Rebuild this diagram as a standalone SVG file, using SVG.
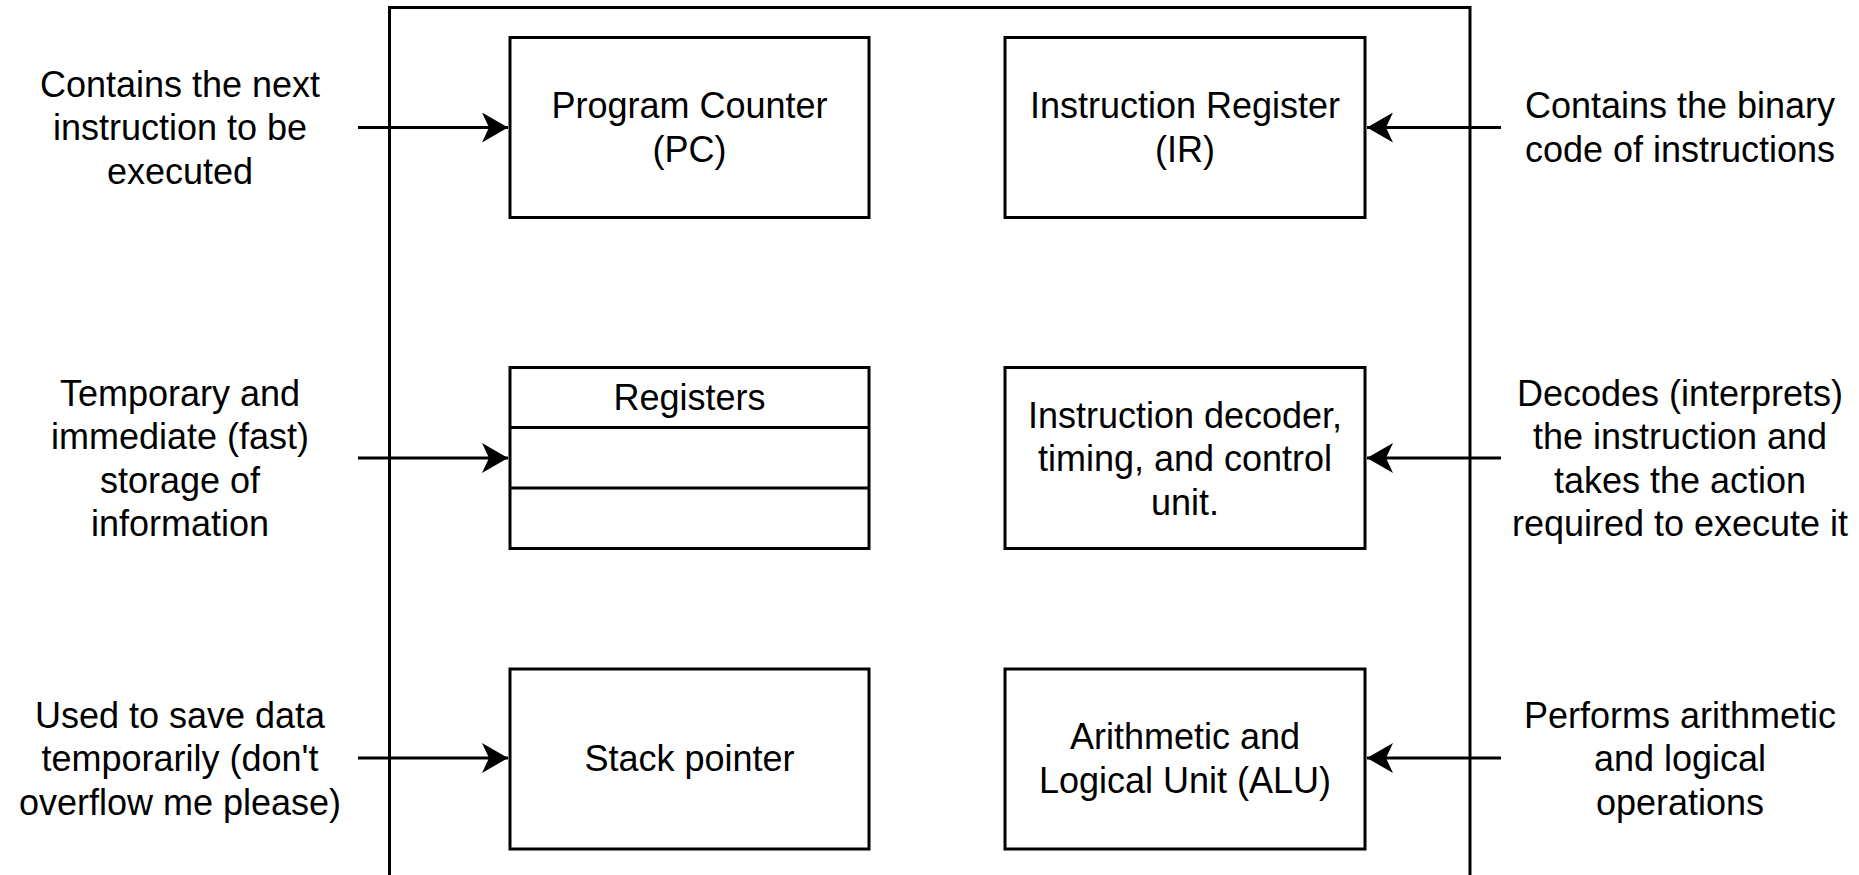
<svg xmlns="http://www.w3.org/2000/svg" width="1859" height="875" viewBox="0 0 1859 875">
<style>
.box{fill:#fff;stroke:#000;stroke-width:3}
.frame{fill:none;stroke:#000;stroke-width:3}
.t{font-family:"Liberation Sans",Arial,sans-serif;font-size:36px;fill:#000;text-anchor:middle}
.c{stroke:#000;stroke-width:3;fill:none}
</style>
<defs>
<marker id="arr" markerUnits="userSpaceOnUse" viewBox="0 0 26 30" refX="26" refY="15" markerWidth="26" markerHeight="30" orient="auto">
<path d="M26,15 L0,0 L7,15 L0,30 Z" fill="#000"/>
</marker>
</defs>
<rect x="0" y="0" width="1859" height="875" fill="#fff"/>
<g id="cpu">
<rect class="frame" x="389.5" y="7.5" width="1080.5" height="880"/>
</g>
<g id="pc">
<rect class="box" x="510" y="37.5" width="359" height="180"/>
<text class="t" x="689.5" y="118.25">Program Counter</text>
<text class="t" x="689.5" y="161.75">(PC)</text>
</g>
<g id="ir">
<rect class="box" x="1005" y="37.5" width="360" height="180"/>
<text class="t" x="1185" y="118.25">Instruction Register</text>
<text class="t" x="1185" y="161.75">(IR)</text>
</g>
<g id="registers">
<rect class="box" x="510" y="367.5" width="359" height="181"/>
<line class="c" x1="510" y1="427.5" x2="869" y2="427.5"/>
<line class="c" x1="510" y1="488" x2="869" y2="488"/>
<text class="t" x="689.5" y="410">Registers</text>
</g>
<g id="decoder">
<rect class="box" x="1005" y="367.5" width="360" height="181"/>
<text class="t" x="1185" y="427.5">Instruction decoder,</text>
<text class="t" x="1185" y="471">timing, and control</text>
<text class="t" x="1185" y="514.5">unit.</text>
</g>
<g id="stack">
<rect class="box" x="510" y="669" width="359" height="180"/>
<text class="t" x="689.5" y="771">Stack pointer</text>
</g>
<g id="alu">
<rect class="box" x="1005" y="669" width="360" height="180"/>
<text class="t" x="1185" y="749.25">Arithmetic and</text>
<text class="t" x="1185" y="792.75">Logical Unit (ALU)</text>
</g>
<g id="label-pc">
<text class="t" x="180" y="96.5">Contains the next</text>
<text class="t" x="180" y="140">instruction to be</text>
<text class="t" x="180" y="183.5">executed</text>
</g>
<g id="label-reg">
<text class="t" x="180" y="405.75">Temporary and</text>
<text class="t" x="180" y="449.25">immediate (fast)</text>
<text class="t" x="180" y="492.75">storage of</text>
<text class="t" x="180" y="536.25">information</text>
</g>
<g id="label-sp">
<text class="t" x="180" y="727.5">Used to save data</text>
<text class="t" x="180" y="771">temporarily (don't</text>
<text class="t" x="180" y="814.5">overflow me please)</text>
</g>
<g id="label-ir">
<text class="t" x="1680" y="118.25">Contains the binary</text>
<text class="t" x="1680" y="161.75">code of instructions</text>
</g>
<g id="label-dec">
<text class="t" x="1680" y="405.75">Decodes (interprets)</text>
<text class="t" x="1680" y="449.25">the instruction and</text>
<text class="t" x="1680" y="492.75">takes the action</text>
<text class="t" x="1680" y="536.25">required to execute it</text>
</g>
<g id="label-alu">
<text class="t" x="1680" y="727.5">Performs arithmetic</text>
<text class="t" x="1680" y="771">and logical</text>
<text class="t" x="1680" y="814.5">operations</text>
</g>
<g id="connectors">
<line class="c" x1="358" y1="127.5" x2="508" y2="127.5" marker-end="url(#arr)"/>
<line class="c" x1="358" y1="458" x2="508" y2="458" marker-end="url(#arr)"/>
<line class="c" x1="358" y1="758" x2="508" y2="758" marker-end="url(#arr)"/>
<line class="c" x1="1501" y1="127.5" x2="1367" y2="127.5" marker-end="url(#arr)"/>
<line class="c" x1="1501" y1="458" x2="1367" y2="458" marker-end="url(#arr)"/>
<line class="c" x1="1501" y1="758" x2="1367" y2="758" marker-end="url(#arr)"/>
</g>
</svg>
